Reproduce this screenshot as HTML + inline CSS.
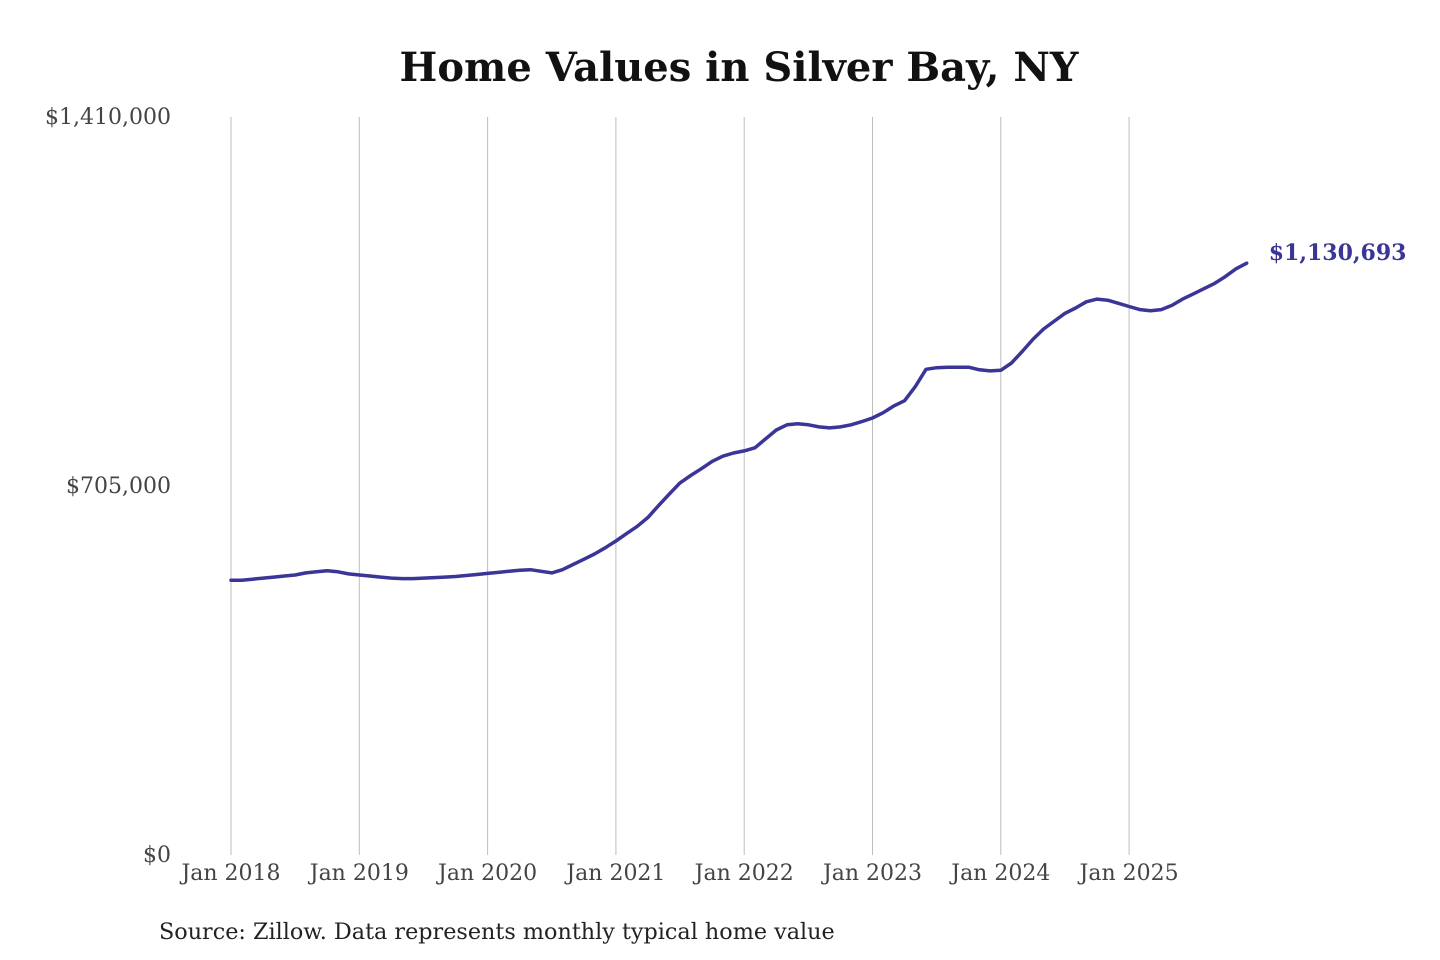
<!DOCTYPE html>
<html><head><meta charset="utf-8"><style>
html,body{margin:0;padding:0;background:#fff;}
svg{display:block;font-family:"DejaVu Serif","Liberation Serif",serif;}
</style></head><body>
<svg id="chart" width="1440" height="960">
<text x="739" y="81" text-anchor="middle" font-size="40" font-weight="bold" fill="#111">Home Values in Silver Bay, NY</text>
<g id="grid"></g><g id="yticks"></g><g id="xticks"></g><g id="series"></g>
<text x="159" y="939" font-size="22.3" fill="#222">Source: Zillow. Data represents monthly typical home value</text>
</svg>
<script>
const yTickValues=[0,705000,1410000];
const yTickLabels=["$0","$705,000","$1,410,000"];
const xTickYears=[2018,2019,2020,2021,2022,2023,2024,2025];
const xTickLabels=["Jan 2018","Jan 2019","Jan 2020","Jan 2021","Jan 2022","Jan 2023","Jan 2024","Jan 2025"];
const startYear=2018;
const values2018=[525,525,527,529,531,533,535,539,541,543,541,537];
const values2019=[535,533,531,529,528,528,529,530,531,532,534,536];
const values2020=[538,540,542,544,545,542,539,545,555,565,575,587];
const values2021=[600,614,628,645,668,690,711,725,738,752,762,768];
const values2022=[772,778,795,812,822,824,822,818,816,818,822,828];
const values2023=[835,845,858,868,895,928,931,932,932,932,927,925];
const values2024=[926,940,962,985,1005,1020,1035,1045,1057,1062,1060,1054];
const values2025=[1048,1042,1040,1042,1050,1062,1072,1082,1092,1105,1120,1130.693];
const lastLabel="$1,130,693";
const series=[].concat(values2018,values2019,values2020,values2021,values2022,values2023,values2024,values2025).map(v=>v*1000);

const NS="http://www.w3.org/2000/svg";
const plotTop=117,plotBottom=855,x0=231,yearW=128.3,yMax=1410000;
const X=m=>x0+m*yearW/12;
const Y=v=>plotBottom-v/yMax*(plotBottom-plotTop);
function mk(tag,attrs,parent,text){const e=document.createElementNS(NS,tag);for(const k in attrs)e.setAttribute(k,attrs[k]);if(text!==undefined)e.textContent=text;parent.appendChild(e);return e;}
const grid=document.getElementById('grid'),yt=document.getElementById('yticks'),xt=document.getElementById('xticks'),sg=document.getElementById('series');
xTickYears.forEach((yr,i)=>{
  const x=X((yr-startYear)*12);
  const l=mk('line',{x1:x,x2:x,y1:plotTop,y2:plotBottom,stroke:'#bdbdbd','stroke-width':1},grid);
  
  
  const t=mk('text',{x:x,y:880,'text-anchor':'middle','font-size':22,fill:'#444'},xt,xTickLabels[i]);
  
  
});
yTickValues.forEach((v,i)=>{
  const t=mk('text',{x:171,y:Y(v)+7,'text-anchor':'end','font-size':22,fill:'#444'},yt,yTickLabels[i]);
  
  
});
const d=series.map((v,i)=>(i?'L':'M')+X(i).toFixed(1)+','+Y(v).toFixed(1)).join(' ');
const p=mk('path',{d:d,fill:'none',stroke:'#3a3596','stroke-width':3.5,'stroke-linejoin':'round','stroke-linecap':'round'},sg);


const li=series.length-1;
const lt=mk('text',{x:X(li)+22,y:Y(series[li])-3,'font-size':22,'font-weight':'bold',fill:'#3a3596'},sg,lastLabel);


</script>
</body></html>
